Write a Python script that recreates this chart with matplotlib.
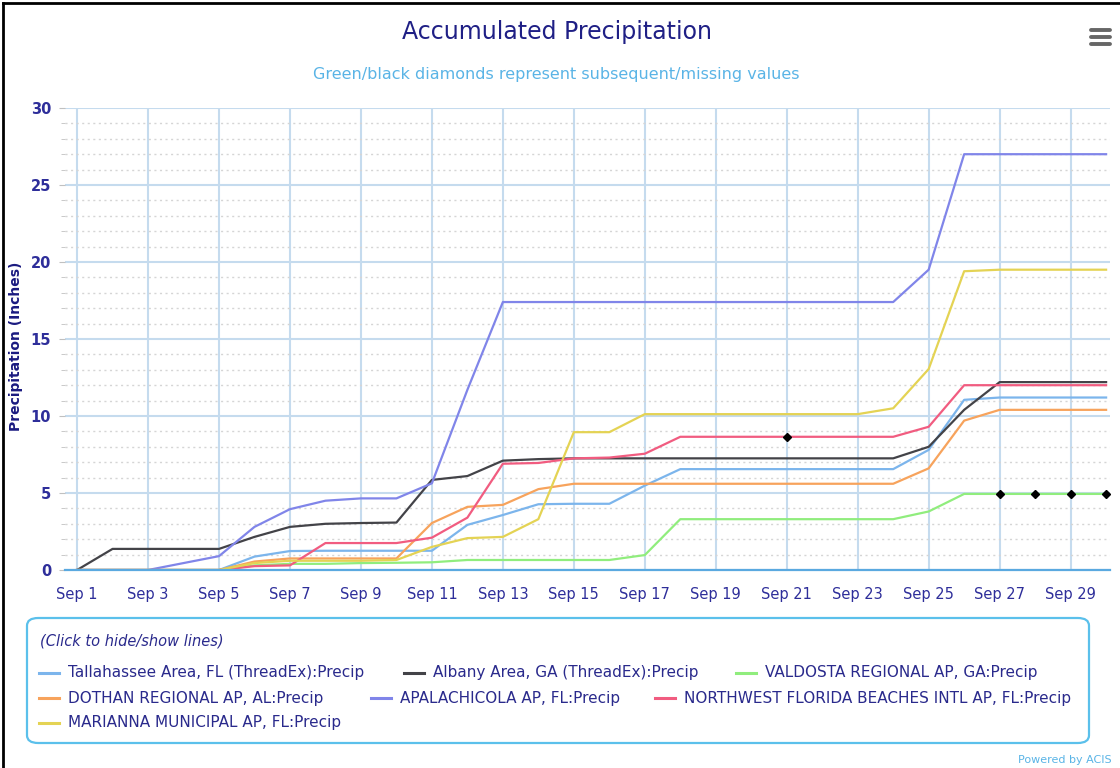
import matplotlib
matplotlib.use("Agg")
import matplotlib.pyplot as plt
from matplotlib.lines import Line2D
from matplotlib.patches import FancyBboxPatch
from matplotlib.ticker import MultipleLocator

plt.rcParams['font.family'] = ['DejaVu Sans']

days = list(range(1, 31))
x_tick_days = list(range(1, 30, 2))
x_tick_labels = [f"Sep {d}" for d in x_tick_days]

series_names = [
    "Tallahassee Area, FL (ThreadEx):Precip",
    "Albany Area, GA (ThreadEx):Precip",
    "VALDOSTA REGIONAL AP, GA:Precip",
    "DOTHAN REGIONAL AP, AL:Precip",
    "APALACHICOLA AP, FL:Precip",
    "NORTHWEST FLORIDA BEACHES INTL AP, FL:Precip",
    "MARIANNA MUNICIPAL AP, FL:Precip",
]
series_colors = ["#7cb5ec", "#434348", "#90ed7d", "#f7a35c", "#8085e9", "#f15c80", "#e4d354"]

tallahassee = [0, 0, 0, 0, 0, 0.87, 1.23, 1.25, 1.25, 1.25, 1.25, 2.93, 3.57, 4.27, 4.3,
               4.3, 5.48, 6.55, 6.55, 6.55, 6.55, 6.55, 6.55, 6.55, 7.8, 11.05, 11.2, 11.2, 11.2, 11.2]
albany = [0, 1.37, 1.37, 1.37, 1.37, 2.15, 2.8, 3.0, 3.05, 3.08, 5.85, 6.1, 7.1, 7.2, 7.25,
          7.25, 7.25, 7.25, 7.25, 7.25, 7.25, 7.25, 7.25, 7.25, 8.0, 10.4, 12.2, 12.2, 12.2, 12.2]
valdosta = [0, 0, 0, 0, 0, 0.3, 0.4, 0.4, 0.45, 0.47, 0.5, 0.65, 0.65, 0.65, 0.65,
            0.65, 0.97, 3.3, 3.3, 3.3, 3.3, 3.3, 3.3, 3.3, 3.8, 4.94, 4.94, 4.94, 4.94, 4.94]
dothan = [0, 0, 0, 0, 0, 0.55, 0.75, 0.75, 0.75, 0.75, 3.05, 4.1, 4.23, 5.25, 5.6,
          5.6, 5.6, 5.6, 5.6, 5.6, 5.6, 5.6, 5.6, 5.6, 6.6, 9.7, 10.4, 10.4, 10.4, 10.4]
apalachicola = [0, 0, 0, 0.45, 0.9, 2.8, 3.95, 4.5, 4.65, 4.65, 5.63, 11.7, 17.4, 17.4, 17.4,
                17.4, 17.4, 17.4, 17.4, 17.4, 17.4, 17.4, 17.4, 17.4, 19.5, 27.0, 27.0, 27.0, 27.0, 27.0]
nwfl = [0, 0, 0, 0, 0, 0.25, 0.3, 1.75, 1.75, 1.75, 2.1, 3.4, 6.9, 6.95, 7.25,
        7.3, 7.55, 8.65, 8.65, 8.65, 8.65, 8.65, 8.65, 8.65, 9.3, 12.0, 12.0, 12.0, 12.0, 12.0]
marianna = [0, 0, 0, 0, 0, 0.45, 0.6, 0.6, 0.6, 0.65, 1.5, 2.07, 2.15, 3.3, 8.95,
            8.95, 10.12, 10.12, 10.12, 10.12, 10.12, 10.12, 10.12, 10.5, 13.05, 19.4, 19.5, 19.5, 19.5, 19.5]

series_values = [tallahassee, albany, valdosta, dothan, apalachicola, nwfl, marianna]

# missing-value diamonds: (series index, day)
missing_points = [(5, 21), (2, 27), (2, 28), (2, 29), (2, 30)]

W, H = 1120, 768
fig = plt.figure(figsize=(W / 100, H / 100), dpi=100)
fig.patch.set_facecolor("white")

def fx(px):
    return px / W

def fy(py):
    return 1 - py / H

ax = fig.add_axes([fx(65), fy(570), fx(1110) - fx(65), fy(108) - fy(570)])
ax.set_xlim(0.66, 30.11)
ax.set_ylim(0, 30)

grid_col = "#c5dbee"
ax.yaxis.set_major_locator(MultipleLocator(5))
ax.yaxis.set_minor_locator(MultipleLocator(1))
ax.set_xticks(x_tick_days)
ax.set_xticklabels(x_tick_labels)
ax.grid(True, which="major", axis="both", color=grid_col, lw=1.5)
ax.grid(True, which="minor", axis="y", color="#d5d5d5", lw=1.0, ls=(0, (1.5, 2.5)))
ax.set_axisbelow(True)

for s in ["top", "right", "left"]:
    ax.spines[s].set_visible(False)
ax.spines["bottom"].set_color("#5aa9e0")
ax.spines["bottom"].set_linewidth(1.6)

lab_col = "#2e2e9a"
ax.tick_params(axis="x", length=0, pad=12, labelsize=10.5, labelcolor=lab_col)
ax.tick_params(axis="y", which="major", length=4, color="#c0c0c0", pad=6, labelsize=10.5, labelcolor=lab_col)
ax.tick_params(axis="y", which="minor", length=3, color="#c0c0c0")
for t in ax.get_yticklabels():
    t.set_fontweight("bold")

for name, vals, col in zip(series_names, series_values, series_colors):
    ax.plot(days, vals, color=col, lw=1.6, label=name, solid_joinstyle="round")

for si, d in missing_points:
    ax.plot(d, series_values[si][d - 1], marker="D", color="black", ms=4, zorder=10)

fig.text(fx(16), fy(346), "Precipitation (Inches)", rotation=90, ha="center", va="center",
         color="#1a1a80", fontweight="bold", fontsize=10)

# title & subtitle
fig.text(0.497, fy(32), "Accumulated Precipitation", ha="center", va="center",
         fontsize=17, color="#1f1f85")
fig.text(0.497, fy(75), "Green/black diamonds represent subsequent/missing values", ha="center",
         va="center", fontsize=11.5, color="#5ab4e6")

# hamburger icon
for py in (30, 37, 44):
    fig.add_artist(Line2D([fx(1091), fx(1110)], [fy(py), fy(py)], color="#666666", lw=2.8,
                          solid_capstyle="round"))

# frame edges
fig.add_artist(Line2D([fx(3), fx(3)], [0, fy(3)], color="black", lw=2))
fig.add_artist(Line2D([fx(3), 1], [fy(3), fy(3)], color="black", lw=2))

# legend box
box = FancyBboxPatch((fx(27), fy(743)), fx(1089) - fx(27), fy(618) - fy(743),
                     boxstyle="round,pad=0,rounding_size=0.01", transform=fig.transFigure,
                     facecolor="white", edgecolor="#5bc0eb", lw=1.6)
fig.add_artist(box)
fig.text(fx(40), fy(641), "(Click to hide/show lines)", ha="left", va="center", fontsize=10.5,
         style="italic", color="#2a2a8c")

legend_pos = [(39, 673), (404, 673), (736, 673), (39, 698), (371, 698), (655, 698), (39, 723)]
for (px, py), name, col in zip(legend_pos, series_names, series_colors):
    fig.add_artist(Line2D([fx(px), fx(px + 20)], [fy(py), fy(py)], color=col, lw=2.2))
    fig.text(fx(px + 29), fy(py), name, ha="left", va="center", fontsize=11, color="#2a2a8c")

fig.text(fx(1112), fy(760), "Powered by ACIS", ha="right", va="center", fontsize=8, color="#5ab4e6")

fig.savefig("out.png", dpi=100, facecolor="white")
